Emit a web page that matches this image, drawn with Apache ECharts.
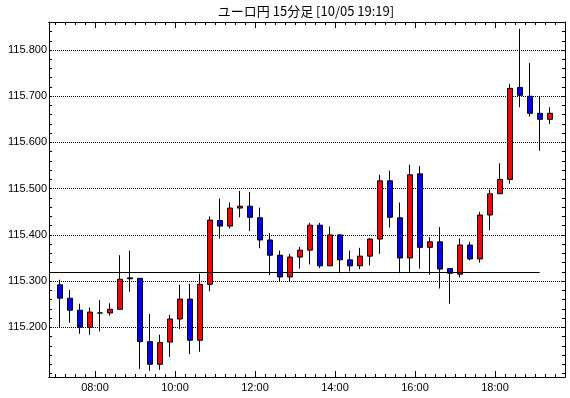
<!DOCTYPE html>
<html>
<head>
<meta charset="utf-8">
<script src="https://cdn.jsdelivr.net/npm/echarts@6/dist/echarts.min.js"></script>
<style>
  html, body { margin: 0; padding: 0; background: #fff; }
  #container { width: 570px; height: 398px; }
</style>
</head>
<body>
<div id="container"></div>
<script>
var dom = document.getElementById('container');
var myChart = echarts.init(dom, null, { renderer: 'canvas' });

// 15 minute bars, 07:00 - 19:15
var times = ['07:00','07:15','07:30','07:45','08:00','08:15','08:30','08:45','09:00','09:15',
    '09:30','09:45','10:00','10:15','10:30','10:45','11:00','11:15','11:30','11:45',
    '12:00','12:15','12:30','12:45','13:00','13:15','13:30','13:45','14:00','14:15',
    '14:30','14:45','15:00','15:15','15:30','15:45','16:00','16:15','16:30','16:45',
    '17:00','17:15','17:30','17:45','18:00','18:15','18:30','18:45','19:00','19:15'];
var opens = [115.292,115.263,115.237,115.200,115.231,115.231,115.239,115.307,115.306,115.169,
    115.120,115.168,115.218,115.261,115.172,115.293,115.431,115.419,115.458,115.462,
    115.437,115.389,115.356,115.309,115.352,115.367,115.421,115.333,115.400,115.346,
    115.333,115.354,115.391,115.517,115.437,115.350,115.532,115.373,115.385,115.327,
    115.315,115.378,115.348,115.443,115.489,115.520,115.719,115.700,115.663,115.650];
var closes = [115.263,115.237,115.200,115.233,115.231,115.239,115.304,115.305,115.169,115.120,
    115.167,115.218,115.261,115.172,115.293,115.432,115.419,115.458,115.462,115.438,
    115.389,115.356,115.309,115.352,115.367,115.421,115.333,115.400,115.346,115.333,
    115.354,115.391,115.517,115.438,115.350,115.530,115.373,115.385,115.326,115.317,
    115.378,115.348,115.443,115.489,115.520,115.717,115.702,115.663,115.650,115.663];
var lows = [115.200,115.210,115.186,115.184,115.191,115.225,115.239,115.277,115.110,115.106,
    115.108,115.136,115.196,115.142,115.147,115.278,115.392,115.414,115.438,115.408,
    115.371,115.313,115.300,115.300,115.327,115.336,115.328,115.333,115.317,115.321,
    115.326,115.334,115.359,115.416,115.317,115.320,115.327,115.314,115.284,115.251,
    115.308,115.345,115.340,115.410,115.489,115.511,115.676,115.656,115.582,115.640];
var highs = [115.303,115.281,115.251,115.243,115.259,115.252,115.356,115.366,115.306,115.229,
    115.184,115.227,115.292,115.294,115.316,115.440,115.479,115.470,115.495,115.493,
    115.459,115.404,115.366,115.359,115.374,115.426,115.426,115.418,115.402,115.366,
    115.372,115.393,115.530,115.539,115.470,115.552,115.549,115.395,115.417,115.327,
    115.392,115.385,115.450,115.498,115.555,115.727,115.846,115.772,115.700,115.676];

var refLevel = 115.319;     // horizontal reference line
var refEnd = '19:07';       // where the reference line stops
var yLabels = [115.2, 115.3, 115.4, 115.5, 115.6, 115.7, 115.8];
var xLabels = ['08:00', '10:00', '12:00', '14:00', '16:00', '18:00'];

var xMin = 411, xMax = 1185;          // minutes of day
var yMin = 115.0925, yMax = 115.8606;

function toMin(t) {
    var p = t.split(':');
    return +p[0] * 60 + +p[1];
}
function fmtMin(v) {
    var h = Math.floor(v / 60), m = Math.round(v % 60);
    return (h < 10 ? '0' : '') + h + ':' + (m < 10 ? '0' : '') + m;
}

var data = [];
for (var i = 0; i < times.length; i++) {
    data.push([toMin(times[i]) + 7.5, opens[i], closes[i], lows[i], highs[i]]);
}

var quarterTicks = [];
for (var t = 420; t <= 1170; t += 15) quarterTicks.push(t);
var hourTicks = xLabels.map(toMin);
var minorY = [];
for (var k = 0; k <= 38; k++) minorY.push(+(115.10 + k * 0.02).toFixed(2));

var font = "'Liberation Sans', Arial, sans-serif";
var black = '#000';

function xAx(pos, ticks, len, labels) {
    return {
        type: 'value', position: pos, min: xMin, max: xMax,
        axisLine: { show: true, onZero: false, lineStyle: { color: black, width: 1 } },
        axisTick: { show: true, inside: true, length: len, customValues: ticks, lineStyle: { color: black } },
        axisLabel: labels ? {
            show: true, customValues: ticks, margin: 5, color: black,
            fontFamily: font, fontSize: 11, formatter: fmtMin
        } : { show: false },
        splitLine: { show: false }
    };
}

var option = {
    backgroundColor: '#fff',
    animation: false,
    title: {
        text: 'ユーロ円 15分足 [10/05 19:19]',
        left: 306, top: 5, padding: 0, textAlign: 'center',
        textStyle: { fontFamily: "'Noto Sans CJK JP', sans-serif", fontSize: 13, fontWeight: 'normal', color: black }
    },
    grid: { left: 49, right: 5, top: 22, bottom: 21, containLabel: false },
    xAxis: [
        xAx('bottom', quarterTicks, 3, false),
        xAx('bottom', hourTicks, 6, true),
        xAx('top', quarterTicks, 3, false),
        xAx('top', hourTicks, 6, false)
    ],
    yAxis: [
        {
            type: 'value', position: 'left', min: yMin, max: yMax, scale: true,
            axisLine: { show: true, onZero: false, lineStyle: { color: black } },
            axisTick: { show: true, inside: true, length: 3, customValues: yLabels, lineStyle: { color: black } },
            axisLabel: {
                show: true, customValues: yLabels, margin: 2, color: black,
                fontFamily: font, fontSize: 11,
                formatter: function (v) { return v.toFixed(3); }
            },
            splitLine: { show: true, lineStyle: { color: black, width: 1, type: [1, 1] } }
        },
        {
            type: 'value', position: 'left', min: yMin, max: yMax, scale: true,
            axisLine: { show: false },
            axisTick: { show: true, inside: true, length: 3, customValues: minorY, lineStyle: { color: black } },
            axisLabel: { show: false },
            splitLine: { show: false }
        },
        {
            type: 'value', position: 'right', min: yMin, max: yMax, scale: true,
            axisLine: { show: true, onZero: false, lineStyle: { color: black } },
            axisTick: { show: true, inside: true, length: 3, customValues: minorY, lineStyle: { color: black } },
            axisLabel: { show: false },
            splitLine: { show: false }
        }
    ],
    series: [
        {
            type: 'candlestick',
            xAxisIndex: 0,
            yAxisIndex: 0,
            barWidth: 6,
            dimensions: ['time', 'open', 'close', 'lowest', 'highest'],
            encode: { x: 'time', y: ['open', 'close', 'lowest', 'highest'] },
            itemStyle: {
                color: '#ff0000',
                color0: '#0000ff',
                borderColor: black,
                borderColor0: black,
                borderWidth: 1
            },
            data: data,
            markLine: {
                silent: true,
                symbol: 'none',
                label: { show: false },
                lineStyle: { color: black, width: 1, type: 'solid' },
                data: [[{ coord: [xMin, refLevel] }, { coord: [toMin(refEnd), refLevel] }]]
            }
        }
    ]
};

if (option && typeof option === 'object') {
    myChart.setOption(option);
}

window.addEventListener('resize', myChart.resize);
</script>
</body>
</html>
